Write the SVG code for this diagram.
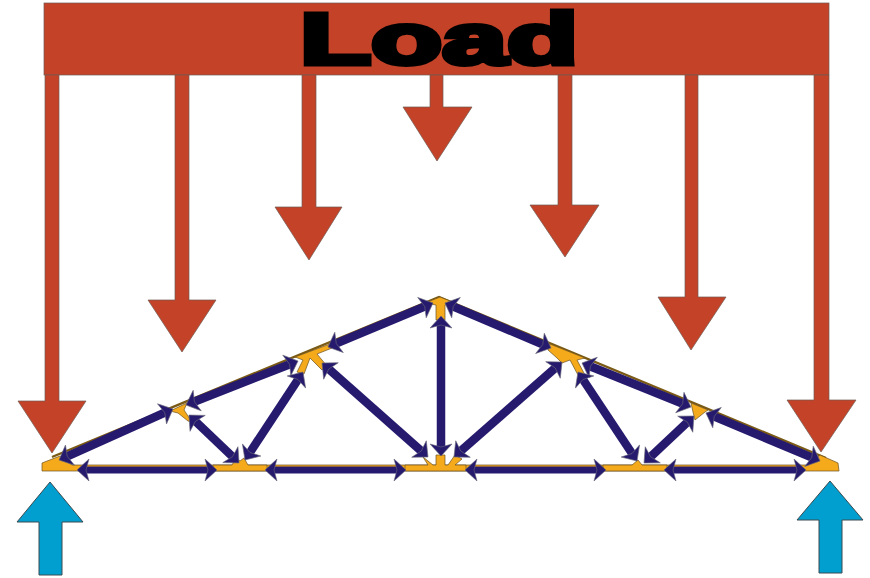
<svg xmlns="http://www.w3.org/2000/svg" width="870" height="578" viewBox="0 0 870 578">
<style>
.red{fill:#c44228;stroke:#6e5a52;stroke-width:.7}
.blue{fill:#009fd0;stroke:#3c4a50;stroke-width:1}
.gold{fill:#f5aa1c;stroke:#6b5220;stroke-width:.7}
.chord{fill:none;stroke:#7a5a14;stroke-width:2.4}
.bar{stroke:#261a6e;stroke-width:8.500;fill:none;marker-start:url(#head);marker-end:url(#head)}
.low{stroke-width:7}
.label{font-family:"Liberation Sans",Arial,sans-serif;font-weight:700;font-size:72px;fill:#000;stroke:#000;stroke-width:5}
</style>
<defs>
<marker id="head" markerUnits="userSpaceOnUse" viewBox="-4 -12 15 24" refX="4" refY="0" markerWidth="15" markerHeight="24" orient="auto-start-reverse">
<path d="M10 0L-2 -11L1 0L-2 11Z" fill="#261a6e" stroke="#6a6a7a" stroke-width=".6"/>
</marker>
</defs>
<rect width="870" height="578" fill="#fff"/>
<g id="load">
<rect class="red" x="44" y="3" width="785" height="72"/>
<text class="label" x="300" y="63.500" textLength="278" lengthAdjust="spacingAndGlyphs">Load</text>
</g>
<g id="load-arrow-1"><polygon class="red" points="45,75 59,75 59,401 86,401 52,453 18,401 45,401"/></g>
<g id="load-arrow-2"><polygon class="red" points="175,75 189,75 189,300 216,300 182,352 148,300 175,300"/></g>
<g id="load-arrow-3"><polygon class="red" points="302,75 316,75 316,207 342,207 309,260 275,207 302,207"/></g>
<g id="load-arrow-4"><polygon class="red" points="430,75 443,75 443,107 472,107 437,161 403,107 430,107"/></g>
<g id="load-arrow-5"><polygon class="red" points="558,75 572,75 572,205 599,205 565,257 530,205 558,205"/></g>
<g id="load-arrow-6"><polygon class="red" points="685,75 698,75 698,297 726,297 691,350 658,297 685,297"/></g>
<g id="load-arrow-7"><polygon class="red" points="814,75 829,75 829,400 856,400 821,452 787,400 814,400"/></g>
<g id="reaction-left"><polygon class="blue" points="50,482 83,522 62,522 62,575 39,575 39,522 17,522"/></g>
<g id="reaction-right"><polygon class="blue" points="830,481 863,520 842,520 842,573 819,573 819,520 797,520"/></g>
<g id="truss">
<polyline class="chord" points="52,457 439,297 826,458"/>
<polygon class="gold" points="42,463 60,456 72,465 808,465 820,455 838,463 839,471 42,471"/>
<polygon class="gold" points="425,303 440,297 455,303 445,305 445,320 436,320 436,305"/>
<polygon class="gold" points="295,357 330,344 332,348 317,354 327,366 322,370 310,358 304,374 297,372 303,360"/>
<polygon class="gold" points="550,344 585,358 577,360 585,375 578,375 570,360 562,363 557,358 548,350"/>
<polygon class="gold" points="170,411 187,403 184,410 192,422 188,421 178,413"/>
<polygon class="gold" points="691,403 708,410 705,412 695,420 693,412"/>
<polygon class="gold" points="423,457 433,465 436,465 436,455 445,455 445,465 448,465 455,455 462,459 455,465 466,465 466,471 405,471 405,465 428,465"/>
<polygon class="gold" points="213,465 232,465 236,458 240,461 244,458 248,465 267,465 267,471 213,471"/>
<polygon class="gold" points="603,465 632,465 638,460 642,465 667,465 667,471 603,471"/>
</g>
<g id="connectors">
<line class="bar low" x1="83" y1="470" x2="211" y2="470"/>
<line class="bar low" x1="271" y1="470" x2="400" y2="470"/>
<line class="bar low" x1="471" y1="470" x2="600" y2="470"/>
<line class="bar low" x1="670" y1="470" x2="800" y2="470"/>
<line class="bar" x1="64.500" y1="457.600" x2="167.500" y2="411.400"/>
<line class="bar" x1="191.600" y1="402.800" x2="292.400" y2="363.200"/>
<line class="bar" x1="333.500" y1="344.700" x2="427.500" y2="305.300"/>
<line class="bar" x1="450.500" y1="305.300" x2="545.500" y2="345.700"/>
<line class="bar" x1="587.600" y1="365.200" x2="685.400" y2="404.800"/>
<line class="bar" x1="711.500" y1="415.300" x2="814.500" y2="458.700"/>
<line class="bar" x1="193.300" y1="419.200" x2="234.700" y2="458.800"/>
<line class="bar" x1="248.300" y1="455" x2="299.700" y2="377"/>
<line class="bar" x1="326.500" y1="367" x2="423.500" y2="453"/>
<line class="bar" x1="441" y1="322" x2="441" y2="450"/>
<line class="bar" x1="458.500" y1="453" x2="557.500" y2="366"/>
<line class="bar" x1="581.300" y1="377" x2="633.700" y2="456"/>
<line class="bar" x1="648.400" y1="458.900" x2="689.600" y2="420.100"/>
</g>
</svg>
